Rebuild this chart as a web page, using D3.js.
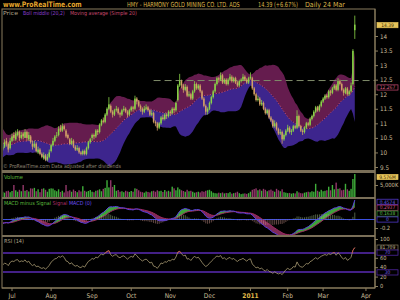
<!DOCTYPE html>
<meta charset="utf-8">
<script src="https://d3js.org/d3.v7.min.js"></script>
<style>
body { margin: 0; background: #000; }
svg text { font-family: "Liberation Sans Narrow", "DejaVu Sans Condensed", Arial, sans-serif; }
</style>
<body>
<div id="chart"></div>
<script>
// closes before 24 Jun 2010, only used to warm up the indicators
var closeBefore = [10.6,10.4,10.7,10.9,10.8,10.5,10.3,10.1,10.2,9.9,10.1,10.3,10.5,10.4,10.6,10.5,10.3,10.2,10.4,10.2,10.0,10.1];

// daily candles 24 Jun 2010 .. 24 Mar 2011 : [open, high, low, close]
var candles = [
[10.1,10.3,10.05,10.2],[10.2,10.45,10.15,10.35],[10.4,10.5,10.2,10.3],[10.3,10.35,10.0,10.1],[10.15,10.5,10.1,10.4],
[10.4,10.65,10.35,10.55],[10.6,10.7,10.4,10.5],[10.45,10.75,10.4,10.65],[10.6,10.8,10.55,10.7],[10.7,10.75,10.4,10.5],
[10.5,10.7,10.45,10.6],[10.65,10.7,10.45,10.55],[10.5,10.8,10.5,10.7],[10.7,10.75,10.4,10.5],[10.45,10.7,10.4,10.6],
[10.55,10.6,10.3,10.35],[10.3,10.4,10.1,10.2],[10.2,10.4,10.15,10.3],[10.3,10.35,10.0,10.05],[10.0,10.2,9.95,10.1],
[10.1,10.15,9.9,9.95],[9.95,10.0,9.8,9.85],[9.8,10.0,9.75,9.9],[9.9,9.95,9.7,9.75],[9.75,9.95,9.7,9.85],
[9.85,10.1,9.8,10.0],[10.05,10.3,10.0,10.25],[10.25,10.5,10.2,10.4],[10.4,10.6,10.35,10.55],[10.6,10.7,10.5,10.6],
[10.6,10.9,10.55,10.8],[10.85,10.95,10.7,10.75],[10.75,11.0,10.7,10.9],[10.9,10.95,10.75,10.8],[10.75,10.8,10.5,10.55],
[10.6,10.65,10.45,10.5],[10.45,10.5,10.25,10.3],[10.3,10.5,10.25,10.4],[10.4,10.45,10.15,10.2],[10.2,10.25,10.05,10.1],
[10.1,10.25,10.05,10.15],[10.15,10.2,9.95,10.0],[10.0,10.05,9.9,9.95],[9.95,10.1,9.9,10.05],[10.05,10.1,9.9,9.95],
[9.95,10.2,9.9,10.15],[10.15,10.4,10.1,10.35],[10.35,10.5,10.3,10.45],[10.5,10.65,10.4,10.6],[10.6,10.65,10.45,10.55],
[10.55,10.8,10.5,10.75],[10.75,10.8,10.6,10.7],[10.7,11.0,10.65,10.95],[10.95,11.15,10.9,11.1],[11.1,11.2,11.0,11.05],
[11.05,11.35,11.0,11.3],[11.3,11.55,11.25,11.5],[11.5,11.9,11.45,11.65],[11.6,11.65,11.35,11.4],[11.4,11.45,11.2,11.3],
[11.3,11.5,11.25,11.45],[11.45,11.6,11.4,11.5],[11.5,11.55,11.3,11.35],[11.35,11.4,11.2,11.3],[11.3,11.5,11.25,11.45],
[11.45,11.6,11.4,11.5],[11.5,11.55,11.35,11.4],[11.4,11.45,11.2,11.3],[11.3,11.5,11.25,11.45],[11.45,11.6,11.4,11.55],
[11.55,11.6,11.4,11.5],[11.5,11.95,11.45,11.85],[11.85,11.9,11.65,11.75],[11.75,11.8,11.55,11.6],[11.6,11.65,11.4,11.5],
[11.5,11.55,11.3,11.4],[11.4,11.6,11.35,11.5],[11.5,11.65,11.45,11.55],[11.55,11.6,11.4,11.45],[11.45,11.5,11.25,11.3],
[11.3,11.45,11.25,11.35],[11.35,11.4,11.0,11.05],[11.05,11.1,10.9,11.0],[11.0,11.05,10.75,10.85],[10.85,11.05,10.8,11.0],
[11.0,11.25,10.95,11.2],[11.2,11.3,11.1,11.15],[11.15,11.35,11.1,11.3],[11.3,11.35,11.15,11.25],[11.25,11.45,11.2,11.4],
[11.4,11.45,11.25,11.35],[11.35,11.55,11.3,11.5],[11.5,11.55,11.35,11.45],[11.45,11.75,11.4,11.7],[11.8,12.35,11.75,12.3],
[12.3,12.7,12.25,12.45],[12.45,12.5,12.2,12.3],[12.3,12.35,12.05,12.15],[12.15,12.35,12.1,12.25],[12.25,12.3,11.9,11.95],
[11.95,12.1,11.9,12.0],[12.0,12.05,11.8,11.85],[11.85,12.15,11.8,12.1],[12.1,12.45,12.05,12.35],[12.35,12.4,12.15,12.2],
[12.2,12.35,12.15,12.3],[12.3,12.35,12.05,12.1],[12.1,12.15,11.8,11.85],[11.85,11.9,11.55,11.6],[11.6,11.65,11.3,11.4],
[11.4,11.55,11.3,11.5],[11.5,11.75,11.45,11.7],[11.7,11.95,11.65,11.9],[11.9,12.15,11.85,12.1],[12.1,12.4,12.05,12.35],
[12.35,12.6,12.3,12.55],[12.55,12.6,12.4,12.5],[12.5,12.75,12.45,12.65],[12.65,12.7,12.35,12.4],[12.4,12.55,12.35,12.5],
[12.5,12.55,12.3,12.35],[12.35,12.55,12.3,12.5],[12.5,12.7,12.45,12.6],[12.6,12.65,12.4,12.45],[12.45,12.6,12.4,12.55],
[12.55,12.6,12.35,12.4],[12.4,12.45,12.25,12.3],[12.3,12.5,12.25,12.45],[12.45,12.55,12.4,12.5],[12.5,12.7,12.45,12.6],
[12.6,12.65,12.45,12.5],[12.5,12.55,12.35,12.4],[12.4,12.6,12.35,12.55],[12.55,12.75,12.5,12.6],[12.55,12.6,12.15,12.2],
[12.2,12.25,11.95,12.0],[12.0,12.05,11.75,11.8],[11.8,11.95,11.75,11.85],[11.85,11.9,11.6,11.65],[11.65,11.8,11.6,11.7],
[11.7,11.75,11.45,11.5],[11.5,11.55,11.3,11.35],[11.35,11.5,11.3,11.45],[11.45,11.5,11.15,11.2],[11.2,11.25,11.05,11.1],
[11.1,11.15,10.85,10.9],[10.9,11.1,10.85,11.0],[11.0,11.05,10.75,10.8],[10.8,10.85,10.6,10.65],[10.65,10.8,10.6,10.7],
[10.7,10.75,10.3,10.45],[10.45,10.65,10.4,10.6],[10.6,10.8,10.55,10.75],[10.75,10.95,10.7,10.85],[10.85,10.9,10.65,10.7],
[10.7,10.8,10.6,10.75],[10.75,10.95,10.7,10.9],[10.9,10.95,10.8,10.85],[10.85,11.45,10.8,11.25],[11.25,11.3,10.85,10.9],
[10.9,10.95,10.7,10.75],[10.75,10.8,10.6,10.7],[10.7,10.9,10.65,10.85],[10.85,11.05,10.8,11.0],[11.0,11.05,10.9,10.95],
[10.95,11.2,10.9,11.15],[11.15,11.3,11.1,11.25],[11.25,11.45,11.2,11.4],[11.4,11.6,11.35,11.55],[11.55,11.6,11.4,11.45],
[11.45,11.65,11.4,11.6],[11.6,11.8,11.55,11.75],[11.75,11.9,11.7,11.85],[11.85,12.0,11.8,11.95],[11.95,12.0,11.85,11.9],
[11.9,12.15,11.85,12.1],[12.1,12.15,11.95,12.05],[12.05,12.25,12.0,12.2],[12.2,12.35,12.15,12.3],[12.3,12.35,12.1,12.15],
[12.15,12.55,12.1,12.45],[12.45,12.5,12.3,12.35],[12.35,12.4,12.1,12.15],[12.15,12.2,11.95,12.05],[12.05,12.25,12.0,12.2],
[12.2,12.25,11.95,12.0],[12.0,12.15,11.95,12.1],[12.1,12.4,12.05,12.3],[12.35,13.55,12.3,13.49],[14.2,14.7,13.9,14.39]
];

// daily volume, millions of shares
var volume = [
2.2,1.8,2.4,2.6,2.0,
2.5,5.0,2.8,2.2,3.0,2.4,5.0,2.6,2.9,2.3, 3.6,3.5,3.8,2.4,3.2,2.0,3.4,3.6,3.0,2.2,
3.4,3.6,3.5,2.8,2.4,3.2,2.1,2.6,1.9,5.0, 2.4,2.8,2.2,3.1,2.5,2.0,2.8,2.3,4.5,2.6,
2.2,2.5,2.9,2.2,2.0,2.6,2.8,3.2,2.4,3.4, 3.8,7.0,4.0,7.0,4.2,5.0,2.6,2.9,2.2,2.4,
2.0,2.6,2.3,2.1,2.5,2.2,3.6,3.4,2.8,2.2, 2.0,1.8,2.3,2.1,1.9,2.4,2.6,2.2,2.8,2.4,
2.6,2.1,2.9,2.3,2.6,2.2,4.3,3.6,2.8,4.0, 3.2,2.8,2.5,2.2,3.0,2.4,2.6,2.2,1.8,2.0,
2.2,1.9,2.4,2.2,2.6,2.8,3.0,2.4,1.8,1.6, 1.5,1.8,1.6,1.9,1.5,1.7,1.6,2.0,1.4,1.6,
1.8,2.2,1.6,1.2,1.4,1.5,1.3,1.6,2.2,3.0, 3.3,3.6,2.8,3.2,2.6,3.4,3.0,2.4,2.8,3.1,
2.6,2.2,3.4,2.8,2.4,3.2,2.0,1.8,1.6,1.7, 1.4,1.6,1.5,2.4,1.9,1.6,1.5,1.8,2.0,2.2,
2.0,2.4,2.2,5.5,2.6,2.2,3.0,2.4,2.6,2.8, 4.3,2.8,5.0,3.2,6.0,3.4,3.6,2.8,3.0,5.5,
3.2,2.6,3.4,7.5,9.576
];

var holidays = ["2010-05-31","2010-07-05","2010-09-06","2010-11-25","2010-12-24","2011-01-17","2011-02-21"];
var monthLabels = ["Jul","Aug","Sep","Oct","Nov","Dec","2011","Feb","Mar","Apr"];
var priceTicks = [9.5,10,10.5,11,11.5,12,12.5,13,13.5,14];
var volTicks = [5];
var macdTicks = [-0.2];
var rsiTicks = [0,20,40,60,100];
var rsiLevels = [70,30];
var resistance = [12.47];   // dashed level drawn from 19 Oct 2010

var W = 400, H = 300;
var L = 2, R = 375;
var panel = {
  main: [9, 170],
  vol: [173, 197],
  macd: [199, 235],
  rsi: [237, 288]
};
var frameCol = "#8a7c5e", textCol = "#c9bd9a";

// trading days
var parse = d3.utcParse("%Y-%m-%d"), fmt = d3.utcFormat("%Y-%m-%d");
var days = [];
for (var d = parse("2010-05-24"); d <= parse("2011-04-01"); d = d3.utcDay.offset(d, 1)) {
  var wd = d.getUTCDay();
  if (wd === 0 || wd === 6 || holidays.indexOf(fmt(d)) >= 0) continue;
  days.push(d);
}
var nB = closeBefore.length;
var closes = closeBefore.concat(candles.map(function(c) { return c[3]; }));
var N = closes.length;
var last = N - 1;

var months = d3.utcMonths(parse("2010-07-01"), parse("2011-04-02"));
var monthIdx = months.map(function(m) { return days.findIndex(function(t) { return t >= m; }); });
var iJul = monthIdx[0];

var x = d3.scaleLinear().domain([iJul - 5.37, iJul + 194.85]).range([L, R]);
var yP = d3.scaleLinear().domain([9.5, 14]).range([167, 36]);
var yV = d3.scaleLinear().domain([0, 10]).range([197, 173]);
var yM = d3.scaleLinear().domain([-0.2, 0]).range([228, 219.5]);
var yR = d3.scaleLinear().domain([0, 100]).range([286, 239]);

// indicators
var mid = [], up = [], lo = [];
for (var i = 0; i < N; i++) {
  if (i < 19) { mid.push(null); up.push(null); lo.push(null); continue; }
  var w = closes.slice(i - 19, i + 1);
  var m = d3.mean(w);
  var sd = Math.sqrt(d3.mean(w, function(v) { return (v - m) * (v - m); }));
  mid.push(m); up.push(m + 2 * sd); lo.push(m - 2 * sd);
}
function ema(arr, n) {
  var k = 2 / (n + 1), out = [arr[0]];
  for (var i = 1; i < arr.length; i++) out.push(arr[i] * k + out[i - 1] * (1 - k));
  return out;
}
var e12 = ema(closes, 12), e26 = ema(closes, 26);
var macd = closes.map(function(c, i) { return e12[i] - e26[i]; });
var sig = ema(macd, 9);
var hist = macd.map(function(v, i) { return v - sig[i]; });
var rsi = [];
var ag = 0, al = 0;
for (var i = 0; i < N; i++) {
  if (i === 0) { rsi.push(50); continue; }
  var ch = closes[i] - closes[i - 1];
  var g = Math.max(ch, 0), l = Math.max(-ch, 0);
  if (i <= 14) { ag += g / 14; al += l / 14; }
  else { ag = (ag * 13 + g) / 14; al = (al * 13 + l) / 14; }
  rsi.push(al === 0 ? 100 : 100 - 100 / (1 + ag / al));
}

var svg = d3.select("#chart").append("svg").attr("width", W).attr("height", H)
  .style("background", "#000");
var defs = svg.append("defs");
Object.keys(panel).forEach(function(k) {
  defs.append("clipPath").attr("id", "clip-" + k).append("rect")
    .attr("x", L + 1).attr("y", panel[k][0]).attr("width", R - L - 1).attr("height", panel[k][1] - panel[k][0]);
});
defs.append("clipPath").attr("id", "clip-rsi-hi").append("rect")
  .attr("x", L + 1).attr("y", panel.rsi[0]).attr("width", R - L - 1).attr("height", yR(70) - panel.rsi[0]);

var vis = d3.range(nB - 1, N);

// text squeezed (or stretched) to the width it has in the picture
function fit(t, xp, yp, len) {
  var w = t.node().getComputedTextLength();
  t.attr("transform", "translate(" + xp + "," + yp + ") scale(" + (len / w) + ",1)");
  return t;
}
function label(xp, yp, size, col, txt, len) {
  var t = svg.append("text").attr("font-size", size).attr("fill", col).text(txt);
  return fit(t, xp, yp, len);
}

// ---- header
label(3, 7, 7.5, "#e3a52c", "www.ProRealTime.com", 69).attr("font-weight", "bold");
label(127, 7, 7, "#dcb54a", "HMY - HARMONY GOLD MINING CO. LTD. ADS", 113);
label(258, 7, 7, "#dcb54a",
  closes[last].toFixed(2) + " (+" + ((closes[last] / closes[last - 1] - 1) * 100).toFixed(2) + "%)", 40);
label(305, 7, 7, "#dcb54a", "Daily " + d3.utcFormat("%-d %b")(days[last]), 40);

// ---- main panel
var gm = svg.append("g").attr("clip-path", "url(#clip-main)");
var bb = d3.range(19, N);
gm.append("path").datum(bb).attr("fill", "#651c4e")
  .attr("d", d3.area().x(function(i) { return x(i); }).y0(function(i) { return yP(mid[i]); }).y1(function(i) { return yP(up[i]); }));
gm.append("path").datum(bb).attr("fill", "#3d258d")
  .attr("d", d3.area().x(function(i) { return x(i); }).y0(function(i) { return yP(lo[i]); }).y1(function(i) { return yP(mid[i]); }));
gm.append("path").datum(bb).attr("fill", "none").attr("stroke", "#d8507a").attr("stroke-width", 0.8)
  .attr("stroke-dasharray", "1.5,1.5")
  .attr("d", d3.line().x(function(i) { return x(i); }).y(function(i) { return yP(mid[i]); }));

var iRes = days.findIndex(function(t) { return fmt(t) === "2010-10-19"; });
gm.selectAll("line.res").data(resistance).enter().append("line")
  .attr("x1", x(iRes)).attr("x2", R).attr("y1", function(v) { return yP(v); }).attr("y2", function(v) { return yP(v); })
  .attr("stroke", "#7f8c6a").attr("stroke-width", 1).attr("stroke-dasharray", "7,4");

var upCol = "#8ad448", downCol = "#d2a066";
var cg = gm.selectAll("g.c").data(candles).enter().append("g");
cg.append("line")
  .attr("x1", function(c, j) { return x(nB + j); }).attr("x2", function(c, j) { return x(nB + j); })
  .attr("y1", function(c) { return yP(c[1]); }).attr("y2", function(c) { return yP(c[2]); })
  .attr("stroke", function(c) { return c[3] >= c[0] ? upCol : downCol; }).attr("stroke-width", 0.8);
cg.append("rect")
  .attr("x", function(c, j) { return x(nB + j) - 0.75; }).attr("width", 1.5)
  .attr("y", function(c) { return yP(Math.max(c[0], c[3])); })
  .attr("height", function(c) { return Math.max(0.6, Math.abs(yP(c[0]) - yP(c[3]))); })
  .attr("fill", function(c) { return c[3] >= c[0] ? upCol : downCol; });

label(3, 14.5, 5.5, "#b0a58a", "Price", 15);
label(23, 14.5, 5.5, "#8a3fd0", "Boll middle (20,2)", 42);
label(70, 14.5, 5.5, "#c8486e", "Moving average (Simple 20)", 67);
label(3, 168, 5.5, "#8c8270", "© ProRealTime.com  Data adjusted after dividends", 118);

// ---- volume panel
var gv = svg.append("g").attr("clip-path", "url(#clip-vol)");
gv.selectAll("rect").data(volume).enter().append("rect")
  .attr("x", function(v, j) { return x(nB + j) - 0.7; }).attr("width", 1.4)
  .attr("y", function(v) { return yV(v); }).attr("height", function(v) { return yV(0) - yV(v); })
  .attr("fill", function(v, j) { return candles[j][3] >= candles[j][0] ? "#3fae3a" : "#93386a"; });
label(4, 178.5, 5.5, "#5dbb3e", "Volume", 19);

// ---- MACD panel
var gc = svg.append("g").attr("clip-path", "url(#clip-macd)");
gc.append("path").datum(vis).attr("fill", "#3ea33a")
  .attr("d", d3.area().x(function(i) { return x(i); }).y0(function(i) { return yM(sig[i]); }).y1(function(i) { return yM(Math.max(macd[i], sig[i])); }));
gc.append("path").datum(vis).attr("fill", "#7e2a58")
  .attr("d", d3.area().x(function(i) { return x(i); }).y0(function(i) { return yM(sig[i]); }).y1(function(i) { return yM(Math.min(macd[i], sig[i])); }));
gc.append("line").attr("x1", L).attr("x2", R).attr("y1", yM(0)).attr("y2", yM(0)).attr("stroke", "#3b4fe0").attr("stroke-width", 1);
gc.selectAll("line.h").data(vis).enter().append("line")
  .attr("x1", function(i) { return x(i); }).attr("x2", function(i) { return x(i); })
  .attr("y1", yM(0)).attr("y2", function(i) { return yM(hist[i]); })
  .attr("stroke", function(i) { return hist[i] >= 0 ? "#a8c890" : "#d09890"; })
  .attr("stroke-opacity", 0.8).attr("stroke-width", 0.6);
gc.append("path").datum(vis).attr("fill", "none").attr("stroke", "#a02a60").attr("stroke-width", 1)
  .attr("d", d3.line().x(function(i) { return x(i); }).y(function(i) { return yM(sig[i]); }));
gc.append("path").datum(vis).attr("fill", "none").attr("stroke", "#5a3ee0").attr("stroke-width", 1)
  .attr("d", d3.line().x(function(i) { return x(i); }).y(function(i) { return yM(macd[i]); }));
var ml = svg.append("text").attr("font-size", 5.5);
ml.append("tspan").attr("fill", "#5dbb3e").text("MACD minus Signal ");
ml.append("tspan").attr("fill", "#b0306a").text("Signal ");
ml.append("tspan").attr("fill", "#6a4ef0").text("MACD (0)");
fit(ml, 4, 204.5, 88);

// ---- RSI panel
var gr = svg.append("g").attr("clip-path", "url(#clip-rsi)");
gr.selectAll("line.lv").data(rsiLevels).enter().append("line")
  .attr("x1", L).attr("x2", R).attr("y1", function(v) { return yR(v); }).attr("y2", function(v) { return yR(v); })
  .attr("stroke", "#5a2bb5").attr("stroke-width", 1.5);
var rline = d3.line().x(function(i) { return x(i); }).y(function(i) { return yR(rsi[i]); });
gr.append("path").datum(vis).attr("fill", "none").attr("stroke", "#a89a72").attr("stroke-width", 0.8).attr("d", rline);
svg.append("path").datum(vis).attr("clip-path", "url(#clip-rsi-hi)").attr("fill", "none")
  .attr("stroke", "#d04848").attr("stroke-width", 0.8).attr("d", rline);
label(4, 242.5, 5.5, "#b0a58a", "RSI (14)", 20);

// ---- frames and separators
svg.append("rect").attr("x", L).attr("y", panel.main[0]).attr("width", R - L).attr("height", panel.rsi[1] - panel.main[0])
  .attr("fill", "none").attr("stroke", frameCol).attr("stroke-width", 1);
[[170, 173], [197, 199], [235, 237]].forEach(function(s) {
  svg.append("rect").attr("x", L).attr("y", s[0]).attr("width", R - L).attr("height", s[1] - s[0]).attr("fill", "#7a6f58");
});

// ---- right axes
function rightAxis(scale, ticks, f, size) {
  var g = svg.append("g").attr("transform", "translate(" + R + ",0)")
    .call(d3.axisRight(scale).tickValues(ticks).tickSize(3).tickPadding(2).tickFormat(f));
  g.select(".domain").remove();
  g.selectAll("line").attr("stroke", frameCol);
  g.selectAll("text").attr("fill", textCol).attr("font-size", size)
    .attr("font-family", "Liberation Sans Narrow, DejaVu Sans Condensed, sans-serif");
}
rightAxis(yP, priceTicks, function(v) { return v; }, 6.3);
rightAxis(yV, volTicks, function(v) { return d3.format(",")(v * 1000) + "K"; }, 5.8);
rightAxis(yM, macdTicks, function(v) { return v; }, 5.8);
rightAxis(yR, rsiTicks, function(v) { return v; }, 5.6);
svg.append("line").attr("x1", R).attr("x2", R).attr("y1", 9).attr("y2", 288).attr("stroke", frameCol);

function valueBox(yc, txt, fill, stroke, tcol) {
  svg.append("rect").attr("x", R + 2).attr("y", yc - 2.6).attr("width", 21).attr("height", 5.2)
    .attr("fill", fill).attr("stroke", stroke).attr("stroke-width", 0.7);
  svg.append("text").attr("x", R + 12.5).attr("y", yc + 1.7).attr("text-anchor", "middle")
    .attr("font-size", 4.9).attr("fill", tcol).text(txt);
}
valueBox(yP(closes[last]) + 0.5, closes[last].toFixed(2), "#e6c45a", "#e6c45a", "#3a2a00");
valueBox(yP(mid[last]) + 1, mid[last].toFixed(3), "#000", "#c84870", "#d86080");
valueBox(yV(volume[volume.length - 1]) + 3, volume[volume.length - 1].toFixed(3) + "M", "#e6c45a", "#e6c45a", "#3a2a00");
valueBox(201.8, macd[last].toFixed(4), "#000", "#5a3ee0", "#7060f0");
valueBox(207.7, sig[last].toFixed(4), "#000", "#b0306a", "#d05080");
valueBox(213.6, hist[last].toFixed(4), "#000", "#3ea33a", "#60c050");
valueBox(yM(0), "0", "#000", "#5a3ee0", "#7060f0");
valueBox(yR(rsi[last]), rsi[last].toFixed(3), "#000", frameCol, textCol);
valueBox(yR(70) - 0.5, "70", "#000", "#5a2bb5", "#7a60f0");
valueBox(yR(30) + 0.5, "30", "#000", "#5a2bb5", "#7a60f0");

// ---- bottom axis
var gx = svg.append("g").attr("transform", "translate(0,288)");
gx.append("line").attr("x1", L).attr("x2", R).attr("stroke", frameCol);
gx.selectAll("line.t").data(monthIdx).enter().append("line")
  .attr("x1", function(i) { return x(i); }).attr("x2", function(i) { return x(i); })
  .attr("y1", 0).attr("y2", 3).attr("stroke", frameCol);
gx.selectAll("text").data(monthIdx).enter().append("text")
  .attr("x", function(i) { return x(i); }).attr("y", 10).attr("text-anchor", "middle")
  .attr("font-size", 6.5)
  .attr("font-weight", function(i, j) { return monthLabels[j] === "2011" ? "bold" : null; })
  .attr("fill", function(i, j) { return monthLabels[j] === "2011" ? "#e0bb4a" : textCol; })
  .text(function(i, j) { return monthLabels[j]; });
</script>
</body>
